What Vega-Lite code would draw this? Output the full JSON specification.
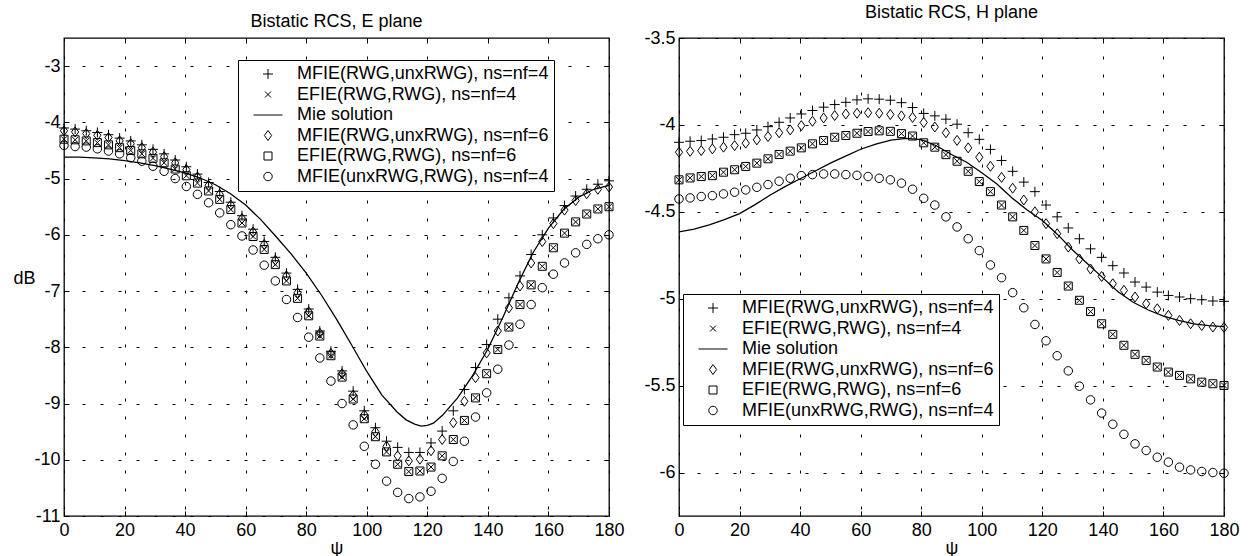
{
  "$schema": "https://vega.github.io/schema/vega-lite/v6.json",
  "background": "white",
  "padding": {"left": 12, "top": 3, "right": 5, "bottom": 2},
  "bounds": "flush",
  "spacing": 70,
  "config": {
    "font": "Liberation Sans",
    "view": {"stroke": "black", "strokeWidth": 1.3},
    "axis": {
      "labelFont": "Liberation Sans", "labelFontSize": 18, "labelColor": "black",
      "titleFont": "Liberation Sans", "titleFontSize": 18, "titleFontWeight": "normal", "titleColor": "black",
      "domain": false, "grid": true, "gridColor": "black", "gridDash": [3, 15], "gridWidth": 1, "gridOpacity": 1,
      "tickColor": "black", "tickSize": -5, "tickWidth": 1, "labelFlush": false, "labelOverlap": false
    },
    "title": {"font": "Liberation Sans", "fontSize": 18, "fontWeight": "normal", "color": "black", "anchor": "middle", "offset": 7}
  },
  "datasets": {
    "E_pts": [
      {"psi": 0, "A": -4.10, "B": -4.30, "C": -4.15, "D": -4.30, "E": -4.41},
      {"psi": 3.67, "A": -4.12, "B": -4.31, "C": -4.17, "D": -4.31, "E": -4.43},
      {"psi": 7.35, "A": -4.15, "B": -4.33, "C": -4.20, "D": -4.33, "E": -4.44},
      {"psi": 11.02, "A": -4.18, "B": -4.36, "C": -4.23, "D": -4.36, "E": -4.47},
      {"psi": 14.69, "A": -4.22, "B": -4.40, "C": -4.27, "D": -4.40, "E": -4.51},
      {"psi": 18.37, "A": -4.28, "B": -4.45, "C": -4.33, "D": -4.45, "E": -4.56},
      {"psi": 22.04, "A": -4.33, "B": -4.50, "C": -4.38, "D": -4.50, "E": -4.63},
      {"psi": 25.71, "A": -4.40, "B": -4.56, "C": -4.45, "D": -4.56, "E": -4.69},
      {"psi": 29.39, "A": -4.48, "B": -4.64, "C": -4.53, "D": -4.64, "E": -4.78},
      {"psi": 33.06, "A": -4.56, "B": -4.72, "C": -4.61, "D": -4.72, "E": -4.87},
      {"psi": 36.73, "A": -4.67, "B": -4.83, "C": -4.72, "D": -4.83, "E": -5.00},
      {"psi": 40.41, "A": -4.79, "B": -4.95, "C": -4.84, "D": -4.95, "E": -5.14},
      {"psi": 44.08, "A": -4.92, "B": -5.08, "C": -4.97, "D": -5.08, "E": -5.28},
      {"psi": 47.76, "A": -5.07, "B": -5.22, "C": -5.12, "D": -5.22, "E": -5.43},
      {"psi": 51.43, "A": -5.23, "B": -5.37, "C": -5.28, "D": -5.37, "E": -5.61},
      {"psi": 55.1, "A": -5.42, "B": -5.55, "C": -5.47, "D": -5.55, "E": -5.82},
      {"psi": 58.78, "A": -5.66, "B": -5.79, "C": -5.71, "D": -5.79, "E": -6.02},
      {"psi": 62.45, "A": -5.90, "B": -6.03, "C": -5.95, "D": -6.03, "E": -6.27},
      {"psi": 66.12, "A": -6.12, "B": -6.26, "C": -6.17, "D": -6.26, "E": -6.54},
      {"psi": 69.8, "A": -6.40, "B": -6.53, "C": -6.45, "D": -6.53, "E": -6.82},
      {"psi": 73.47, "A": -6.68, "B": -6.82, "C": -6.73, "D": -6.82, "E": -7.15},
      {"psi": 77.14, "A": -6.97, "B": -7.13, "C": -7.03, "D": -7.13, "E": -7.47},
      {"psi": 80.82, "A": -7.32, "B": -7.44, "C": -7.37, "D": -7.44, "E": -7.82},
      {"psi": 84.49, "A": -7.71, "B": -7.80, "C": -7.75, "D": -7.80, "E": -8.19},
      {"psi": 88.16, "A": -8.07, "B": -8.15, "C": -8.11, "D": -8.15, "E": -8.60},
      {"psi": 91.84, "A": -8.42, "B": -8.53, "C": -8.47, "D": -8.53, "E": -9.00},
      {"psi": 95.51, "A": -8.78, "B": -8.92, "C": -8.85, "D": -8.92, "E": -9.38},
      {"psi": 99.18, "A": -9.13, "B": -9.27, "C": -9.20, "D": -9.27, "E": -9.76},
      {"psi": 102.86, "A": -9.43, "B": -9.59, "C": -9.50, "D": -9.59, "E": -10.08},
      {"psi": 106.53, "A": -9.67, "B": -9.86, "C": -9.76, "D": -9.86, "E": -10.38},
      {"psi": 110.2, "A": -9.78, "B": -10.08, "C": -9.93, "D": -10.08, "E": -10.58},
      {"psi": 113.88, "A": -9.87, "B": -10.21, "C": -10.02, "D": -10.21, "E": -10.69},
      {"psi": 117.55, "A": -9.87, "B": -10.20, "C": -9.99, "D": -10.20, "E": -10.66},
      {"psi": 121.22, "A": -9.70, "B": -10.13, "C": -9.84, "D": -10.13, "E": -10.56},
      {"psi": 124.9, "A": -9.49, "B": -9.93, "C": -9.64, "D": -9.93, "E": -10.33},
      {"psi": 128.57, "A": -9.13, "B": -9.64, "C": -9.34, "D": -9.64, "E": -10.03},
      {"psi": 132.24, "A": -8.75, "B": -9.30, "C": -8.96, "D": -9.30, "E": -9.67},
      {"psi": 135.92, "A": -8.36, "B": -8.90, "C": -8.54, "D": -8.90, "E": -9.24},
      {"psi": 139.59, "A": -7.95, "B": -8.47, "C": -8.10, "D": -8.47, "E": -8.81},
      {"psi": 143.27, "A": -7.50, "B": -8.04, "C": -7.71, "D": -8.04, "E": -8.39},
      {"psi": 146.94, "A": -7.12, "B": -7.64, "C": -7.30, "D": -7.64, "E": -7.96},
      {"psi": 150.61, "A": -6.73, "B": -7.24, "C": -6.91, "D": -7.24, "E": -7.59},
      {"psi": 154.29, "A": -6.35, "B": -6.89, "C": -6.50, "D": -6.89, "E": -7.24},
      {"psi": 157.96, "A": -6.00, "B": -6.56, "C": -6.12, "D": -6.56, "E": -6.94},
      {"psi": 161.63, "A": -5.70, "B": -6.23, "C": -5.80, "D": -6.23, "E": -6.70},
      {"psi": 165.31, "A": -5.48, "B": -5.97, "C": -5.56, "D": -5.97, "E": -6.50},
      {"psi": 168.98, "A": -5.31, "B": -5.77, "C": -5.39, "D": -5.77, "E": -6.32},
      {"psi": 172.65, "A": -5.19, "B": -5.63, "C": -5.27, "D": -5.63, "E": -6.17},
      {"psi": 176.33, "A": -5.10, "B": -5.54, "C": -5.19, "D": -5.54, "E": -6.07},
      {"psi": 180, "A": -5.04, "B": -5.50, "C": -5.15, "D": -5.50, "E": -6.00}
    ],
    "E_mie": [
      {"psi": 0, "dB": -4.62}, {"psi": 5, "dB": -4.62}, {"psi": 10, "dB": -4.63}, {"psi": 15, "dB": -4.65},
      {"psi": 20, "dB": -4.68}, {"psi": 25, "dB": -4.72}, {"psi": 30, "dB": -4.77}, {"psi": 35, "dB": -4.83},
      {"psi": 40, "dB": -4.90}, {"psi": 45, "dB": -4.99}, {"psi": 50, "dB": -5.11}, {"psi": 55, "dB": -5.27},
      {"psi": 60, "dB": -5.47}, {"psi": 65, "dB": -5.73}, {"psi": 70, "dB": -6.03}, {"psi": 75, "dB": -6.34},
      {"psi": 80, "dB": -6.68}, {"psi": 85, "dB": -7.07}, {"psi": 90, "dB": -7.50}, {"psi": 95, "dB": -7.96},
      {"psi": 100, "dB": -8.43}, {"psi": 105, "dB": -8.85}, {"psi": 110, "dB": -9.15}, {"psi": 113, "dB": -9.29},
      {"psi": 116, "dB": -9.37}, {"psi": 118, "dB": -9.40}, {"psi": 120, "dB": -9.39}, {"psi": 122, "dB": -9.35},
      {"psi": 125, "dB": -9.21}, {"psi": 130, "dB": -8.90}, {"psi": 135, "dB": -8.50}, {"psi": 140, "dB": -8.03},
      {"psi": 145, "dB": -7.46}, {"psi": 150, "dB": -6.86}, {"psi": 155, "dB": -6.31}, {"psi": 160, "dB": -5.88},
      {"psi": 165, "dB": -5.55}, {"psi": 170, "dB": -5.33}, {"psi": 175, "dB": -5.19}, {"psi": 180, "dB": -5.12}
    ],
    "H_pts": [
      {"psi": 0, "A": -4.100, "B": -4.316, "C": -4.157, "D": -4.316, "E": -4.426},
      {"psi": 3.67, "A": -4.094, "B": -4.305, "C": -4.152, "D": -4.305, "E": -4.420},
      {"psi": 7.35, "A": -4.090, "B": -4.297, "C": -4.148, "D": -4.297, "E": -4.412},
      {"psi": 11.02, "A": -4.081, "B": -4.292, "C": -4.138, "D": -4.292, "E": -4.407},
      {"psi": 14.69, "A": -4.071, "B": -4.272, "C": -4.128, "D": -4.272, "E": -4.397},
      {"psi": 18.37, "A": -4.056, "B": -4.258, "C": -4.119, "D": -4.258, "E": -4.387},
      {"psi": 22.04, "A": -4.048, "B": -4.239, "C": -4.105, "D": -4.239, "E": -4.374},
      {"psi": 25.71, "A": -4.029, "B": -4.220, "C": -4.086, "D": -4.220, "E": -4.359},
      {"psi": 29.39, "A": -4.010, "B": -4.195, "C": -4.067, "D": -4.195, "E": -4.343},
      {"psi": 33.06, "A": -3.985, "B": -4.170, "C": -4.045, "D": -4.170, "E": -4.324},
      {"psi": 36.73, "A": -3.960, "B": -4.151, "C": -4.029, "D": -4.151, "E": -4.307},
      {"psi": 40.41, "A": -3.937, "B": -4.132, "C": -4.004, "D": -4.132, "E": -4.292},
      {"psi": 44.08, "A": -3.917, "B": -4.109, "C": -3.979, "D": -4.109, "E": -4.286},
      {"psi": 47.76, "A": -3.898, "B": -4.090, "C": -3.960, "D": -4.090, "E": -4.282},
      {"psi": 51.43, "A": -3.883, "B": -4.071, "C": -3.946, "D": -4.071, "E": -4.282},
      {"psi": 55.1, "A": -3.870, "B": -4.061, "C": -3.937, "D": -4.061, "E": -4.286},
      {"psi": 58.78, "A": -3.856, "B": -4.048, "C": -3.933, "D": -4.048, "E": -4.290},
      {"psi": 62.45, "A": -3.850, "B": -4.038, "C": -3.930, "D": -4.038, "E": -4.297},
      {"psi": 66.12, "A": -3.852, "B": -4.034, "C": -3.933, "D": -4.034, "E": -4.307},
      {"psi": 69.8, "A": -3.858, "B": -4.037, "C": -3.940, "D": -4.037, "E": -4.316},
      {"psi": 73.47, "A": -3.872, "B": -4.050, "C": -3.948, "D": -4.050, "E": -4.335},
      {"psi": 77.14, "A": -3.900, "B": -4.064, "C": -3.957, "D": -4.064, "E": -4.370},
      {"psi": 80.82, "A": -3.934, "B": -4.103, "C": -3.986, "D": -4.103, "E": -4.422},
      {"psi": 84.49, "A": -3.948, "B": -4.128, "C": -4.012, "D": -4.128, "E": -4.461},
      {"psi": 88.16, "A": -3.967, "B": -4.171, "C": -4.045, "D": -4.171, "E": -4.529},
      {"psi": 91.84, "A": -3.996, "B": -4.209, "C": -4.089, "D": -4.209, "E": -4.587},
      {"psi": 95.51, "A": -4.045, "B": -4.267, "C": -4.132, "D": -4.267, "E": -4.655},
      {"psi": 99.18, "A": -4.083, "B": -4.326, "C": -4.186, "D": -4.326, "E": -4.723},
      {"psi": 102.86, "A": -4.141, "B": -4.384, "C": -4.238, "D": -4.384, "E": -4.806},
      {"psi": 106.53, "A": -4.205, "B": -4.461, "C": -4.302, "D": -4.461, "E": -4.879},
      {"psi": 110.2, "A": -4.267, "B": -4.529, "C": -4.364, "D": -4.529, "E": -4.965},
      {"psi": 113.88, "A": -4.329, "B": -4.607, "C": -4.432, "D": -4.607, "E": -5.052},
      {"psi": 117.55, "A": -4.384, "B": -4.694, "C": -4.500, "D": -4.694, "E": -5.148},
      {"psi": 121.22, "A": -4.461, "B": -4.771, "C": -4.568, "D": -4.771, "E": -5.242},
      {"psi": 124.9, "A": -4.529, "B": -4.849, "C": -4.626, "D": -4.849, "E": -5.328},
      {"psi": 128.57, "A": -4.593, "B": -4.927, "C": -4.703, "D": -4.927, "E": -5.415},
      {"psi": 132.24, "A": -4.655, "B": -5.009, "C": -4.771, "D": -5.009, "E": -5.503},
      {"psi": 135.92, "A": -4.713, "B": -5.074, "C": -4.829, "D": -5.074, "E": -5.582},
      {"psi": 139.59, "A": -4.762, "B": -5.144, "C": -4.872, "D": -5.144, "E": -5.658},
      {"psi": 143.27, "A": -4.810, "B": -5.205, "C": -4.914, "D": -5.205, "E": -5.722},
      {"psi": 146.94, "A": -4.852, "B": -5.268, "C": -4.952, "D": -5.268, "E": -5.780},
      {"psi": 150.61, "A": -4.904, "B": -5.320, "C": -4.990, "D": -5.320, "E": -5.835},
      {"psi": 154.29, "A": -4.933, "B": -5.355, "C": -5.029, "D": -5.355, "E": -5.873},
      {"psi": 157.96, "A": -4.962, "B": -5.393, "C": -5.058, "D": -5.393, "E": -5.912},
      {"psi": 161.63, "A": -4.981, "B": -5.422, "C": -5.096, "D": -5.422, "E": -5.940},
      {"psi": 165.31, "A": -4.990, "B": -5.441, "C": -5.125, "D": -5.441, "E": -5.969},
      {"psi": 168.98, "A": -5.000, "B": -5.461, "C": -5.144, "D": -5.461, "E": -5.985},
      {"psi": 172.65, "A": -5.006, "B": -5.480, "C": -5.154, "D": -5.480, "E": -5.994},
      {"psi": 176.33, "A": -5.013, "B": -5.489, "C": -5.163, "D": -5.489, "E": -6.000},
      {"psi": 180, "A": -5.015, "B": -5.499, "C": -5.165, "D": -5.499, "E": -6.004}
    ],
    "H_mie": [
      {"psi": 0, "dB": -4.615}, {"psi": 5, "dB": -4.600}, {"psi": 10, "dB": -4.575}, {"psi": 15, "dB": -4.545},
      {"psi": 20, "dB": -4.510}, {"psi": 25, "dB": -4.460}, {"psi": 30, "dB": -4.405}, {"psi": 35, "dB": -4.355},
      {"psi": 40, "dB": -4.310}, {"psi": 45, "dB": -4.265}, {"psi": 50, "dB": -4.220}, {"psi": 55, "dB": -4.180},
      {"psi": 60, "dB": -4.140}, {"psi": 65, "dB": -4.110}, {"psi": 70, "dB": -4.088}, {"psi": 75, "dB": -4.078},
      {"psi": 80, "dB": -4.085}, {"psi": 85, "dB": -4.120}, {"psi": 90, "dB": -4.170}, {"psi": 95, "dB": -4.215},
      {"psi": 100, "dB": -4.275}, {"psi": 105, "dB": -4.340}, {"psi": 110, "dB": -4.420}, {"psi": 115, "dB": -4.490},
      {"psi": 120, "dB": -4.550}, {"psi": 125, "dB": -4.630}, {"psi": 130, "dB": -4.720}, {"psi": 135, "dB": -4.800},
      {"psi": 140, "dB": -4.880}, {"psi": 145, "dB": -4.960}, {"psi": 150, "dB": -5.020}, {"psi": 155, "dB": -5.065},
      {"psi": 160, "dB": -5.100}, {"psi": 165, "dB": -5.125}, {"psi": 170, "dB": -5.145}, {"psi": 175, "dB": -5.155},
      {"psi": 180, "dB": -5.160}
    ]
  },
  "hconcat": [
    {
      "width": 545,
      "height": 478,
      "title": "Bistatic RCS, E plane",
      "layer": [
        {
          "data": {"name": "E_mie"},
          "mark": {"type": "line", "color": "black", "strokeWidth": 1.3},
          "encoding": {
            "x": {"field": "psi", "type": "quantitative", "scale": {"domain": [0, 180], "nice": false},
                  "axis": {"values": [0, 20, 40, 60, 80, 100, 120, 140, 160, 180], "title": "ψ", "labelPadding": 10, "titlePadding": 0}},
            "y": {"field": "dB", "type": "quantitative", "scale": {"domain": [-11, -2.5], "nice": false, "zero": false},
                  "axis": {"values": [-11, -10, -9, -8, -7, -6, -5, -4, -3], "labelExpr": "'' + datum.value", "labelPadding": 9,
                           "title": "dB", "titleAngle": 0, "titleAlign": "left", "titleBaseline": "middle", "titleX": -51, "titleY": 240}}
          }
        },
        {
          "data": {"name": "E_pts"},
          "transform": [{"fold": ["A", "B", "C", "D", "E"], "as": ["s", "dB"]}],
          "mark": {"type": "point", "filled": false, "color": "black", "strokeWidth": 1, "size": 100, "opacity": 1},
          "encoding": {
            "x": {"field": "psi", "type": "quantitative", "scale": {"domain": [0, 180], "nice": false}, "axis": null},
            "y": {"field": "dB", "type": "quantitative", "scale": {"domain": [-11, -2.5], "nice": false, "zero": false}, "axis": null},
            "shape": {"field": "s", "type": "nominal",
                      "scale": {"domain": ["A", "B", "M", "C", "D", "E"],
                                "range": ["M-1,0L1,0M0,-1L0,1", "M-0.6,-0.6L0.6,0.6M-0.6,0.6L0.6,-0.6", "M-2.9,0L2.9,0", "M0,-1L0.72,0L0,1L-0.72,0Z", "M-0.8,-0.8L0.8,-0.8L0.8,0.8L-0.8,0.8Z", "M-0.85,0A0.85,0.85,0,1,0,0.85,0A0.85,0.85,0,1,0,-0.85,0Z"]},
                      "legend": {"title": null, "orient": "none", "legendX": 174, "legendY": 22, "strokeColor": "black", "fillColor": "white",
                                 "padding": 5, "symbolSize": 100, "symbolStrokeWidth": 1, "symbolStrokeColor": "black", "symbolFillColor": "transparent",
                                 "symbolOffset": 16, "labelOffset": 20, "labelFont": "Liberation Sans", "labelFontSize": 18, "labelColor": "black", "labelLimit": 400, "rowPadding": 2.5,
                                 "labelExpr": "datum.label == 'A' ? 'MFIE(RWG,unxRWG), ns=nf=4' : datum.label == 'B' ? 'EFIE(RWG,RWG), ns=nf=4' : datum.label == 'M' ? 'Mie solution' : datum.label == 'C' ? 'MFIE(RWG,unxRWG), ns=nf=6' : datum.label == 'D' ? 'EFIE(RWG,RWG), ns=nf=6' : 'MFIE(unxRWG,RWG), ns=nf=4'"}}
          }
        },
        {
          "data": {"name": "E_mie"},
          "mark": {"type": "point", "opacity": 0},
          "encoding": {
            "x": {"field": "psi", "type": "quantitative", "scale": {"domain": [0, 180], "nice": false},
                  "axis": {"orient": "top", "values": [20, 40, 60, 80, 100, 120, 140, 160], "labels": false, "grid": false, "title": null}},
            "y": {"field": "dB", "type": "quantitative", "scale": {"domain": [-11, -2.5], "nice": false, "zero": false},
                  "axis": {"orient": "right", "values": [-10, -9, -8, -7, -6, -5, -4, -3], "labels": false, "grid": false, "title": null}}
          }
        }
      ],
      "resolve": {"axis": {"x": "independent", "y": "independent"}}
    },
    {
      "width": 545,
      "height": 478,
      "title": "Bistatic RCS, H plane",
      "layer": [
        {
          "data": {"name": "H_mie"},
          "mark": {"type": "line", "color": "black", "strokeWidth": 1.3},
          "encoding": {
            "x": {"field": "psi", "type": "quantitative", "scale": {"domain": [0, 180], "nice": false},
                  "axis": {"values": [0, 20, 40, 60, 80, 100, 120, 140, 160, 180], "title": "ψ", "labelPadding": 10, "titlePadding": 0}},
            "y": {"field": "dB", "type": "quantitative", "scale": {"domain": [-6.25, -3.5], "nice": false, "zero": false},
                  "axis": {"values": [-6, -5.5, -5, -4.5, -4, -3.5], "labelExpr": "'' + datum.value", "labelPadding": 9, "title": null}}
          }
        },
        {
          "data": {"name": "H_pts"},
          "transform": [{"fold": ["A", "B", "C", "D", "E"], "as": ["s", "dB"]}],
          "mark": {"type": "point", "filled": false, "color": "black", "strokeWidth": 1, "size": 100, "opacity": 1},
          "encoding": {
            "x": {"field": "psi", "type": "quantitative", "scale": {"domain": [0, 180], "nice": false}, "axis": null},
            "y": {"field": "dB", "type": "quantitative", "scale": {"domain": [-6.25, -3.5], "nice": false, "zero": false}, "axis": null},
            "shape": {"field": "s", "type": "nominal",
                      "scale": {"domain": ["A", "B", "M", "C", "D", "E"],
                                "range": ["M-1,0L1,0M0,-1L0,1", "M-0.6,-0.6L0.6,0.6M-0.6,0.6L0.6,-0.6", "M-2.9,0L2.9,0", "M0,-1L0.72,0L0,1L-0.72,0Z", "M-0.8,-0.8L0.8,-0.8L0.8,0.8L-0.8,0.8Z", "M-0.85,0A0.85,0.85,0,1,0,0.85,0A0.85,0.85,0,1,0,-0.85,0Z"]},
                      "legend": {"title": null, "orient": "none", "legendX": 4, "legendY": 256, "strokeColor": "black", "fillColor": "white",
                                 "padding": 5, "symbolSize": 100, "symbolStrokeWidth": 1, "symbolStrokeColor": "black", "symbolFillColor": "transparent",
                                 "symbolOffset": 16, "labelOffset": 20, "labelFont": "Liberation Sans", "labelFontSize": 18, "labelColor": "black", "labelLimit": 400, "rowPadding": 2.5,
                                 "labelExpr": "datum.label == 'A' ? 'MFIE(RWG,unxRWG), ns=nf=4' : datum.label == 'B' ? 'EFIE(RWG,RWG), ns=nf=4' : datum.label == 'M' ? 'Mie solution' : datum.label == 'C' ? 'MFIE(RWG,unxRWG), ns=nf=6' : datum.label == 'D' ? 'EFIE(RWG,RWG), ns=nf=6' : 'MFIE(unxRWG,RWG), ns=nf=4'"}}
          }
        },
        {
          "data": {"name": "H_mie"},
          "mark": {"type": "point", "opacity": 0},
          "encoding": {
            "x": {"field": "psi", "type": "quantitative", "scale": {"domain": [0, 180], "nice": false},
                  "axis": {"orient": "top", "values": [20, 40, 60, 80, 100, 120, 140, 160], "labels": false, "grid": false, "title": null}},
            "y": {"field": "dB", "type": "quantitative", "scale": {"domain": [-6.25, -3.5], "nice": false, "zero": false},
                  "axis": {"orient": "right", "values": [-6, -5.5, -5, -4.5, -4], "labels": false, "grid": false, "title": null}}
          }
        }
      ],
      "resolve": {"axis": {"x": "independent", "y": "independent"}}
    }
  ],
  "resolve": {"scale": {"x": "independent", "y": "independent", "shape": "independent"}, "legend": {"shape": "independent"}}
}
